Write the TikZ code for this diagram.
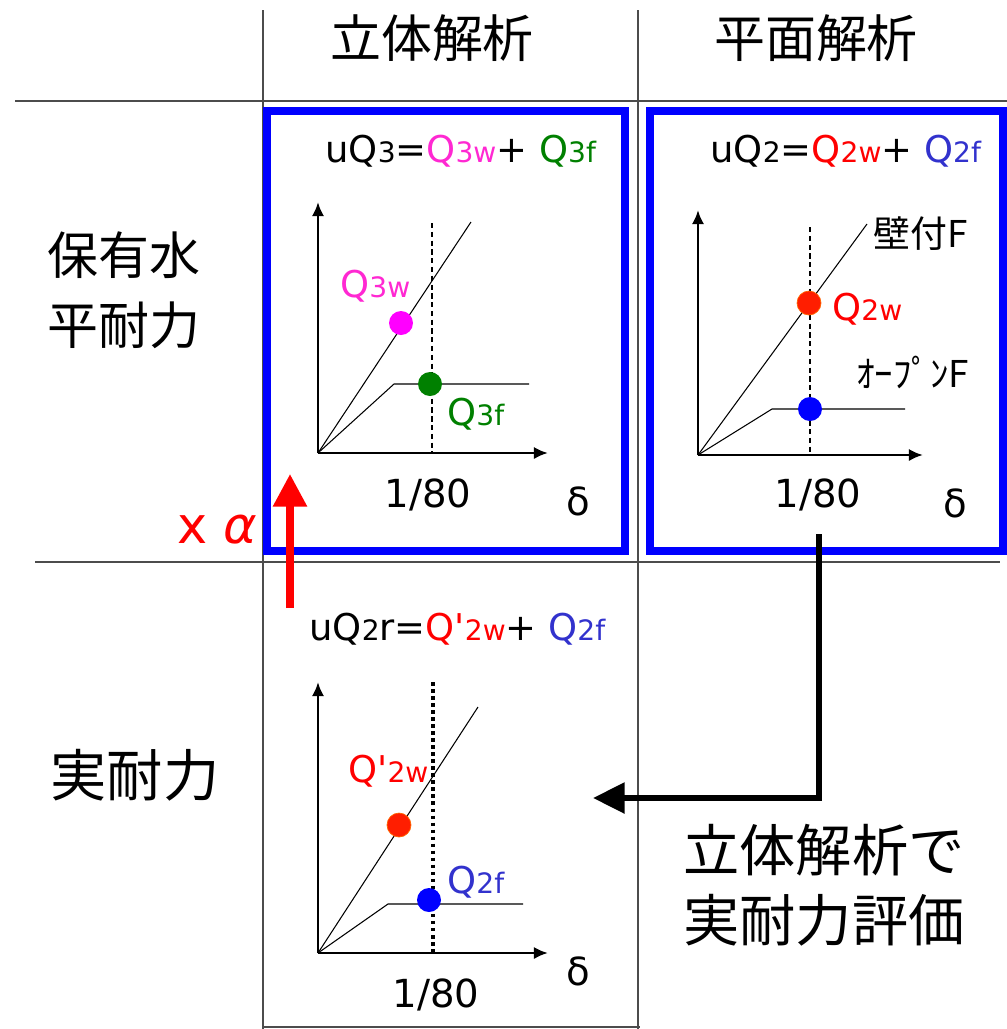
\documentclass[tikz,border=0pt]{standalone}
\usepackage{fontspec}
\setmainfont{DejaVu Sans}
\newfontfamily\jpfont{Noto Sans CJK JP}
\usetikzlibrary{arrows.meta}
\usetikzlibrary{math}

\definecolor{qmag}{RGB}{255,40,210}
\definecolor{dotmag}{RGB}{255,0,255}
\definecolor{qgreen}{RGB}{0,128,0}
\definecolor{qred}{RGB}{255,0,0}
\definecolor{dotred}{RGB}{255,30,0}
\definecolor{qblue}{RGB}{50,50,205}
\definecolor{dotblue}{RGB}{0,0,255}

% smaller index text, kept on the baseline
\newcommand{\sml}[1]{{\fontsize{16}{16}\selectfont #1}}

\begin{document}
\begin{tikzpicture}[x=0.02cm, y=-0.02cm,
  grid/.style={draw=black!70, line width=0.6pt},
  bluebox/.style={draw=dotblue, line width=4.5pt},
  axis/.style={-{Latex[length=8pt,width=7pt]}, line width=1.6pt},
  curve/.style={line width=0.6pt},
  dashline/.style={line width=1.1pt, dash pattern=on 3pt off 2pt},
  dotline/.style={line width=2pt, dash pattern=on 2pt off 2pt},
  dot/.style={circle, inner sep=0pt, minimum size=0.48cm},
  head/.style={font=\jpfont\fontsize{29}{29}\selectfont, inner sep=0pt},
  bigjp/.style={font=\jpfont\fontsize{32}{32}\selectfont, inner sep=0pt, anchor=west},
  smalljp/.style={font=\jpfont\fontsize{21}{21}\selectfont, inner sep=0pt, anchor=base west},
  eq/.style={font=\fontsize{21}{21}\selectfont, inner sep=0pt, anchor=base west},
  tick/.style={font=\fontsize{22}{22}\selectfont, inner sep=0pt, anchor=base}
]
\tikzmath{
\r=12;
}
\useasboundingbox (0,0) rectangle (1007,1029);

% table
\draw[grid] (263,10) -- (263,1029);
\draw[grid] (638,10) -- (638,1029);
\draw[grid] (15,101) -- (1007,101);
\draw[grid] (35,562) -- (1000,562);
\draw[grid] (263,1027) -- (640,1027);

\node[head] (h3d) at (432,38) {立体解析};
\node[head] (h2d) at (816,38) {平面解析};
\node[head] (row1a) at (124,255) {保有水};
\node[head] (row1b) at (124,325) {平耐力};
\node[head, font=\jpfont\fontsize{32}{32}\selectfont] (row2) at (135,775) {実耐力};

\draw[bluebox] (267,111) rectangle (625,551);
\draw[bluebox] (650,111) rectangle (1003,551);

%% 3D analysis
\node[eq] (eq3) at (325,162) {uQ\sml{3}=\textcolor{qmag}{Q\sml{3w}}+ \textcolor{qgreen}{Q\sml{3f}}};
\coordinate (o3) at (318,453);
\draw[dashline] (432,223) -- (432,453);
\draw[curve] (o3) -- (471,222);
\draw[curve] (o3) -- (394,384) -- (529,384);
\draw[axis] (o3) -- (318,202);
\draw[axis] (o3) -- (548,453);
\node[dot, fill=dotmag] (p3w) at (401,323) {};
\node[dot, fill=qgreen] (p3f) at (430,384) {};
\node[eq, text=qmag] (l3w) at (340,297) {Q\sml{3w}};
\node[eq, text=qgreen] (l3f) at (447,425) {Q\sml{3f}};
\node[tick] (t3) at (428,507) {1/80};
\node[tick] (d3) at (578,515) {δ};

%% plane analysis
\node[eq] (eq2) at (710,162) {uQ\sml{2}=\textcolor{qred}{Q\sml{2w}}+ \textcolor{qblue}{Q\sml{2f}}};
\coordinate (o2) at (698,455);
\draw[dashline] (810,227) -- (810,455);
\draw[curve] (o2) -- (867,224);
\draw[curve] (o2) -- (772,409) -- (905,409);
\draw[axis] (o2) -- (698,210);
\draw[axis] (o2) -- (923,455);
\node[dot, fill=dotred, draw=orange!80!red] (p2w) at (809,303) {};
\node[dot, fill=dotblue] (p2f) at (810,409) {};
\node[smalljp] (wall) at (873,247) {壁付F};
\node[eq, text=qred] (l2w) at (832,320) {Q\sml{2w}};
\node[smalljp] (open) at (856,387) {ｵｰﾌﾟﾝF};
\node[tick] (t2) at (818,507) {1/80};
\node[tick] (d2) at (955,517) {δ};

%% real strength
\node[eq] (eqr) at (309,640) {uQ\sml{2}r=\textcolor{qred}{Q\textquotesingle\sml{2w}}+ \textcolor{qblue}{Q\sml{2f}}};
\coordinate (or) at (318,953);
\draw[dotline] (433,682) -- (433,953);
\draw[curve] (or) -- (478,707);
\draw[curve] (or) -- (388,904) -- (523,904);
\draw[axis] (or) -- (318,682);
\draw[axis] (or) -- (548,953);
\node[dot, fill=dotred, draw=orange!80!red] (prw) at (399,825) {};
\node[dot, fill=dotblue] (prf) at (429,900) {};
\node[eq, text=qred] (lrw) at (348,782) {Q\textquotesingle\sml{2w}};
\node[eq, text=qblue] (lrf) at (447,893) {Q\sml{2f}};
\node[tick] (tr) at (436,1007) {1/80};
\node[tick] (dr) at (578,985) {δ};

%% arrows
\coordinate (alphaFrom) at (290,608);
\coordinate (alphaTo) at (290,474);
\draw[-{Triangle[length=18.5pt,width=18.5pt]}, line width=4pt, qred] (alphaFrom) -- (alphaTo);
\node[anchor=base west, inner sep=0pt, text=qred, font=\fontsize{29}{29}\selectfont] (alpha) at (177,543) {x {\itshape α}};

\coordinate (evalFrom) at (819,534);
\coordinate (evalTo) at (593,798);
\draw[-{Triangle[length=18pt,width=17pt]}, line width=3.4pt] (evalFrom) |- (evalTo);
\node[bigjp] (eval1) at (683,850) {立体解析で};
\node[bigjp] (eval2) at (683,920) {実耐力評価};

\end{tikzpicture}
\end{document}
